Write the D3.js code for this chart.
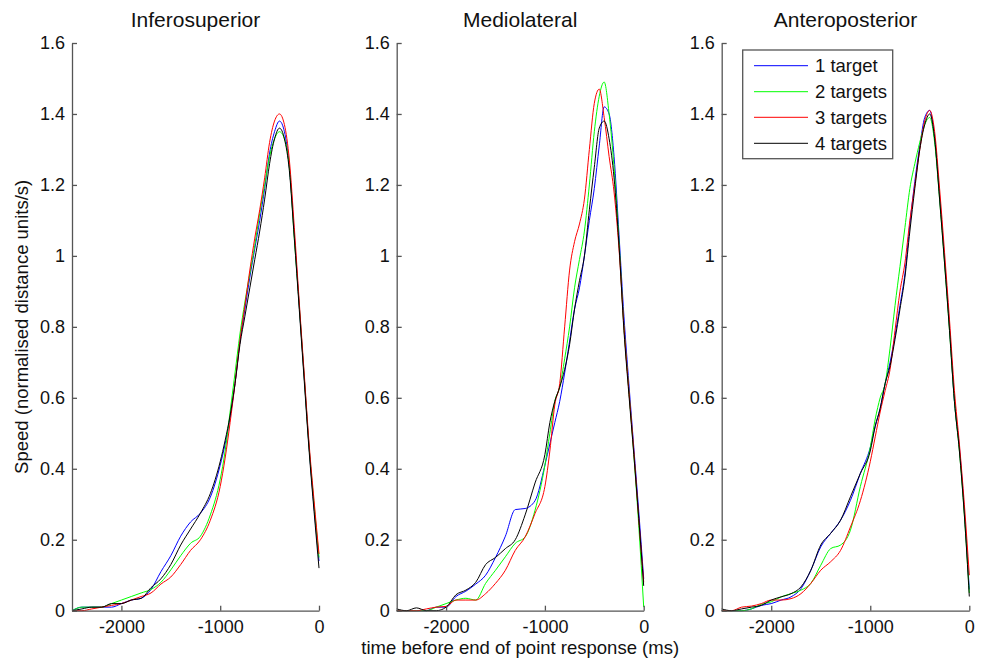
<!DOCTYPE html>
<html>
<head>
<meta charset="utf-8">
<script src="https://cdn.jsdelivr.net/npm/d3@7"></script>
<style>
  body { margin: 0; background: #fff; }
  text { font-family: "Liberation Sans", Arial, sans-serif; }
</style>
</head>
<body>
<div id="chart"></div>
<script>
// time before end of point response (ms)
var times = [-2500,-2400,-2300,-2200,-2100,-2000,-1900,-1800,-1700,-1600,-1500,-1400,-1300,-1200,-1100,
             -1000,-950,-900,-850,-800,-750,-700,-650,-600,-550,-500,-450,-400,-350,-300,-250,-200,-150,-100,-50,0];

var panelTitles = ["Inferosuperior", "Mediolateral", "Anteroposterior"];
var seriesNames = ["1 target", "2 targets", "3 targets", "4 targets"];
var seriesColors = ["#0000ff", "#00ff00", "#ff0000", "#000000"];

var yTicks = [0, 0.2, 0.4, 0.6, 0.8, 1, 1.2, 1.4, 1.6];
var xTicks = [-2000, -1000, 0];

// Inferosuperior
var infero1 = [0,0.01,0.01,0.01,0.01,0.02,0.03,0.035,0.06,0.11,0.155,0.21,0.25,0.275,0.32,
               0.41,0.47,0.545,0.64,0.76,0.85,0.94,1.02,1.10,1.19,1.29,1.35,1.38,1.35,1.25,1.06,0.86,0.66,0.46,0.29,0.14];
var infero2 = [0,0.01,0.01,0.01,0.02,0.03,0.04,0.05,0.06,0.08,0.115,0.155,0.19,0.21,0.27,
               0.37,0.45,0.56,0.67,0.78,0.87,0.95,1.03,1.12,1.20,1.28,1.33,1.35,1.33,1.25,1.05,0.86,0.66,0.46,0.30,0.15];
var infero3 = [0,0,0.005,0.01,0.015,0.02,0.03,0.04,0.05,0.075,0.095,0.13,0.17,0.2,0.255,
               0.35,0.43,0.53,0.64,0.76,0.86,0.96,1.05,1.13,1.22,1.32,1.38,1.40,1.37,1.27,1.08,0.87,0.67,0.47,0.31,0.16];
var infero4 = [0,0.005,0.01,0.01,0.02,0.02,0.03,0.035,0.065,0.09,0.13,0.185,0.23,0.275,0.33,
               0.42,0.48,0.55,0.64,0.75,0.83,0.91,0.99,1.07,1.16,1.26,1.33,1.36,1.33,1.24,1.05,0.85,0.65,0.45,0.28,0.12];

// Mediolateral
var medio1 = [0,0,0,0,0.01,0.01,0.04,0.055,0.075,0.10,0.15,0.21,0.285,0.288,0.31,
              0.41,0.47,0.53,0.59,0.67,0.76,0.85,0.91,1.0,1.10,1.19,1.31,1.42,1.40,1.28,1.06,0.83,0.64,0.46,0.28,0.09];
var medio2 = [0,0,0,0,0.01,0.02,0.03,0.035,0.03,0.077,0.114,0.152,0.19,0.208,0.283,
              0.41,0.50,0.59,0.63,0.71,0.80,0.91,0.99,1.07,1.20,1.35,1.45,1.49,1.40,1.25,1.04,0.80,0.62,0.44,0.24,0.01];
var medio3 = [0,0,0,0.005,0.01,0.012,0.03,0.03,0.03,0.048,0.077,0.114,0.17,0.208,0.274,
              0.35,0.45,0.58,0.64,0.80,0.96,1.04,1.09,1.16,1.30,1.43,1.47,1.39,1.28,1.18,1.02,0.80,0.62,0.45,0.26,0.08];
var medio4 = [0.005,0,0.008,0,0,0.01,0.045,0.058,0.08,0.13,0.15,0.175,0.2,0.27,0.36,
              0.44,0.53,0.59,0.63,0.68,0.75,0.85,0.93,1.0,1.13,1.25,1.36,1.38,1.33,1.22,1.03,0.79,0.61,0.44,0.26,0.07];

// Anteroposterior
var antero1 = [0,0,0,0.005,0.015,0.02,0.03,0.039,0.062,0.114,0.18,0.218,0.255,0.311,0.387,
               0.46,0.52,0.57,0.64,0.70,0.775,0.86,0.95,1.09,1.21,1.31,1.39,1.41,1.33,1.17,0.99,0.80,0.59,0.46,0.28,0.06];
var antero2 = [0,0,0,0.005,0.018,0.025,0.039,0.048,0.058,0.077,0.128,0.175,0.185,0.227,0.35,
               0.46,0.54,0.60,0.64,0.74,0.86,0.97,1.08,1.19,1.26,1.32,1.37,1.39,1.32,1.16,0.98,0.79,0.59,0.45,0.27,0.05];
var antero3 = [0,0,0.01,0.013,0.02,0.03,0.03,0.034,0.048,0.077,0.114,0.138,0.17,0.236,0.31,
               0.42,0.49,0.56,0.62,0.68,0.79,0.90,0.98,1.10,1.20,1.30,1.38,1.41,1.35,1.19,1.01,0.82,0.62,0.47,0.30,0.10];
var antero4 = [0.005,0,0.005,0.01,0.015,0.03,0.039,0.048,0.067,0.114,0.185,0.218,0.255,0.321,0.387,
               0.45,0.52,0.57,0.64,0.69,0.765,0.85,0.94,1.07,1.19,1.30,1.37,1.40,1.33,1.16,0.98,0.79,0.59,0.45,0.27,0.04];

var panelSeries = [
    [infero1, infero2, infero3, infero4],
    [medio1, medio2, medio3, medio4],
    [antero1, antero2, antero3, antero4]
];

function main() {
    var W = 981, H = 659;
    var axisColor = "#555";
    var tickFont = 18;
    var labelFont = 18.5;
    var panelX = [[72, 319], [396.7, 643.7], [721.7, 969.3]];

    var svg = d3.select("#chart")
            .append("svg")
            .attr("width", W)
            .attr("height", H);

    var y = d3.scaleLinear().domain([0, 1.6]).range([610.7, 43]);

    panelTitles.forEach(function(title, p) {
        var x = d3.scaleLinear().domain([-2500, 0]).range(panelX[p]);
        var g = svg.append("g");

        // lines
        var line = d3.line()
            .x(function(d, i) { return x(times[i]); })
            .y(function(d) { return y(d); })
            .curve(d3.curveMonotoneX);

        panelSeries[p].forEach(function(vals, s) {
            g.append("path")
                .attr("d", line(vals))
                .attr("fill", "none")
                .attr("stroke", seriesColors[s])
                .attr("stroke-width", 1);
        });

        // y axis
        var ya = g.append("g")
            .attr("transform", "translate(" + panelX[p][0] + ",0)")
            .call(d3.axisLeft(y).tickValues(yTicks)
                .tickSizeInner(-5).tickSizeOuter(0).tickPadding(7)
                .tickFormat(function(d) { return String(+d.toFixed(1)); }));
        // x axis
        var xa = g.append("g")
            .attr("transform", "translate(0," + y(0) + ")")
            .call(d3.axisBottom(x).tickValues(xTicks)
                .tickSizeInner(-5).tickSizeOuter(0).tickPadding(9.5)
                .tickFormat(function(d) { return String(d); }));

        [ya, xa].forEach(function(a) {
            a.select(".domain").attr("stroke", axisColor).attr("stroke-width", 1.3);
            a.selectAll(".tick line").attr("stroke", axisColor).attr("stroke-width", 1.3);
            a.selectAll(".tick text")
                .attr("fill", "#111")
                .style("font-size", tickFont + "px")
                .style("font-family", "'Liberation Sans', Arial, sans-serif");
        });

        // title
        svg.append("text")
            .attr("x", (panelX[p][0] + panelX[p][1]) / 2)
            .attr("y", 27)
            .attr("text-anchor", "middle")
            .style("font-size", "21px")
            .attr("fill", "#111")
            .text(title);
    });

    // axis labels
    svg.append("text")
        .attr("transform", "translate(28," + ((610.7 + 43) / 2) + ") rotate(-90)")
        .attr("text-anchor", "middle")
        .style("font-size", labelFont + "px")
        .attr("fill", "#111")
        .text("Speed (normalised distance units/s)");

    svg.append("text")
        .attr("x", (panelX[1][0] + panelX[1][1]) / 2)
        .attr("y", 654)
        .attr("text-anchor", "middle")
        .style("font-size", labelFont + "px")
        .attr("fill", "#111")
        .text("time before end of point response (ms)");

    // legend
    var lg = svg.append("g").attr("transform", "translate(742.7,50)");
    lg.append("rect")
        .attr("width", 150).attr("height", 108.7)
        .attr("fill", "#fff")
        .attr("stroke", "#555")
        .attr("stroke-width", 1.3);
    var rowY = [15.7, 41.7, 67.3, 93.3];
    seriesNames.forEach(function(name, i) {
        lg.append("line")
            .attr("x1", 11.3).attr("x2", 65.3)
            .attr("y1", rowY[i]).attr("y2", rowY[i])
            .attr("stroke", seriesColors[i])
            .attr("stroke-width", 1);
        lg.append("text")
            .attr("x", 72.3)
            .attr("y", rowY[i])
            .attr("dy", "0.36em")
            .style("font-size", labelFont + "px")
            .attr("fill", "#111")
            .text(name);
    });
}

main();
</script>
</body>
</html>
